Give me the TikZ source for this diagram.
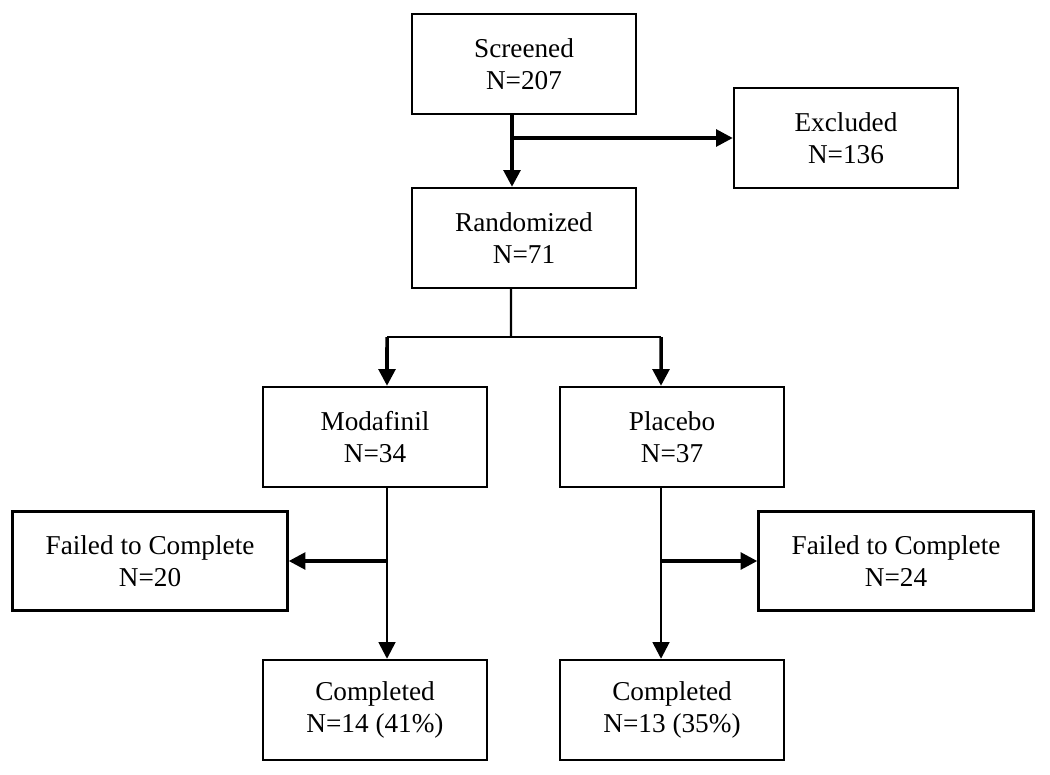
\documentclass[tikz,border=0pt]{standalone}
\usepackage{fontspec}
\setmainfont{Liberation Serif}
\usetikzlibrary{arrows.meta}

\begin{document}
\begin{tikzpicture}[x=0.02cm,y=-0.02cm,
  box/.style={draw,line width=1.4pt,minimum width=4.48cm,minimum height=2cm,
    align=center,font=\fontsize{15.5}{18.5}\selectfont},
  widebox/.style={box,minimum width=5.5cm,minimum height=1.98cm},
  link/.style={line width=1.3pt},
  arr/.style={line width=2pt,-{Triangle[length=9.5pt,width=9.5pt]}}]
\useasboundingbox (0,0) rectangle (1050,774);

\node[box] (scr) at (524,64) {Screened\\N=207};
\node[box] (exc) at (846,138) {Excluded\\N=136};
\node[box] (ran) at (524,238) {Randomized\\N=71};
\node[box] (mod) at (375,437) {Modafinil\\N=34};
\node[box] (pla) at (672,437) {Placebo\\N=37};
\node[widebox] (failL) at (150,561) {Failed to Complete\\N=20};
\node[widebox] (failR) at (896,561) {Failed to Complete\\N=24};
\node[box] (comL) at (375,710) {Completed\\N=14 (41\%)};
\node[box] (comR) at (672,710) {Completed\\N=13 (35\%)};

\coordinate (b1) at (512,138);
\coordinate (r1) at (511,337);
\coordinate (sp1) at (387,337);
\coordinate (sp2) at (661,337);
\coordinate (fl) at (387,561);
\coordinate (fr) at (661,561);

\draw[arr] ([xshift=-0.24cm]scr.south) -- ([xshift=-0.24cm]ran.north);
\draw[arr] (b1) -- (exc.west);

\draw[link] ([xshift=-0.26cm]ran.south) -- (r1);
\draw[link] (sp1) -- (sp2);
\draw[arr] (sp1) -- ([xshift=0.24cm]mod.north);
\draw[arr] (sp2) -- ([xshift=-0.22cm]pla.north);

\draw[arr,line width=1.5pt] ([xshift=0.24cm]mod.south) -- ([xshift=0.24cm]comL.north);
\draw[arr] (fl) -- (failL.east);
\draw[arr,line width=1.5pt] ([xshift=-0.22cm]pla.south) -- ([xshift=-0.22cm]comR.north);
\draw[arr] (fr) -- (failR.west);
\end{tikzpicture}
\end{document}
